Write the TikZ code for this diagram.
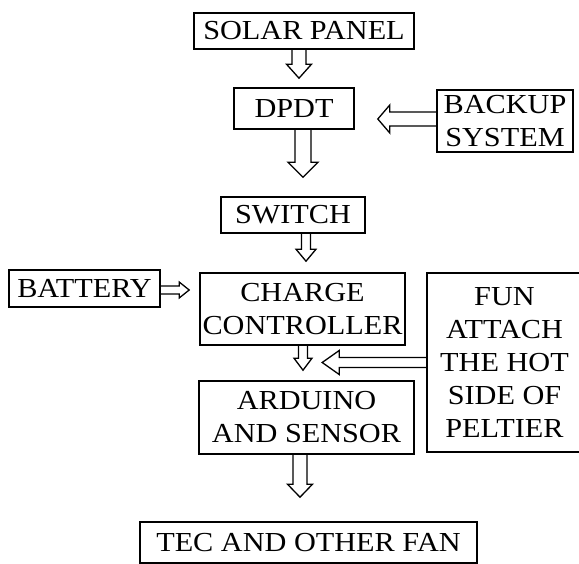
\documentclass[tikz,border=0pt]{standalone}
\usepackage{fontspec}
\setmainfont{Liberation Serif}[FakeStretch=1.1]
\usetikzlibrary{calc}
\tikzset{
  blk/.style = {rectangle, draw, line width=1.6pt, inner sep=1pt, align=center,
                font=\fontsize{27.5}{33}\selectfont},
  hollow/.style n args = {3}{line width=1.3pt, line join=miter, to path={
      ($(\tikztotarget)!#3!(\tikztostart)$) coordinate (hb)
      ($(\tikztostart)!#1!90:(\tikztotarget)$) -- ($(hb)!#1!90:(\tikztotarget)$)
      -- ($(hb)!#2!90:(\tikztotarget)$) -- (\tikztotarget)
      -- ($(hb)!#2!-90:(\tikztotarget)$) -- ($(hb)!#1!-90:(\tikztotarget)$)
      -- ($(\tikztostart)!#1!-90:(\tikztotarget)$)}},
}
\begin{document}
\begin{tikzpicture}[x=1pt, y=-1pt]
  \clip (0,0) rectangle (579,564);

  % Main column
  \node[blk, minimum width=220pt, minimum height=36pt] (solar)   at (304,31)    {SOLAR PANEL};
  \node[blk, minimum width=120pt, minimum height=41pt] (dpdt)    at (294,108.5) {DPDT};
  \node[blk, minimum width=144pt, minimum height=36pt] (switch)  at (293,215)   {SWITCH};
  \node[blk, minimum width=205pt, minimum height=72pt] (charge)  at (302.5,309) {CHARGE\\CONTROLLER};
  \node[blk, minimum width=215pt, minimum height=73pt] (arduino) at (306.5,417.5) {ARDUINO\\AND SENSOR};
  \node[blk, minimum width=337pt, minimum height=41pt] (tec)     at (308.5,542.5) {TEC AND OTHER FAN};

  % Side inputs
  \node[blk, minimum width=136pt, minimum height=62pt] (backup)  at (505,121)   {BACKUP\\SYSTEM};
  \node[blk, minimum width=151pt, minimum height=37pt] (battery) at (84.5,288.5) {BATTERY};
  \node[blk, minimum width=155pt, minimum height=179pt] (fun)    at (504.5,362.5) {FUN\\ATTACH\\THE HOT\\SIDE OF\\PELTIER};

  % Hollow arrows down the column
  \draw[hollow={7pt}{12.5pt}{14pt}] ([xshift=-5pt]solar.south) to ([xshift=5pt,yshift=9pt]dpdt.north);
  \draw[hollow={8pt}{15pt}{15pt}] ([xshift=9pt]dpdt.south) to ([xshift=10pt,yshift=19pt]switch.north);
  \draw[hollow={4.5pt}{10pt}{12pt}] ([xshift=13pt]switch.south) to ([xshift=3.5pt,yshift=11pt]charge.north);
  \draw[hollow={4.5pt}{9pt}{12pt}] ([xshift=0.5pt]charge.south) to ([xshift=-3.5pt,yshift=10pt]arduino.north);
  \draw[hollow={7pt}{12.5pt}{13pt}] ([xshift=-6.5pt]arduino.south) to ([xshift=-8.5pt,yshift=24pt]tec.north);

  % Hollow arrows from the side
  \draw[hollow={7pt}{14pt}{12pt}] ([yshift=2pt]backup.west) to ([xshift=23pt,yshift=-10.5pt]dpdt.east);
  \draw[hollow={4pt}{8pt}{10pt}] ([yshift=-1.5pt]battery.east) to ([xshift=-10pt,yshift=19pt]charge.west);
  \draw[hollow={5pt}{12pt}{17pt}] (fun.west) to ([xshift=-104pt]fun.west);
\end{tikzpicture}
\end{document}
